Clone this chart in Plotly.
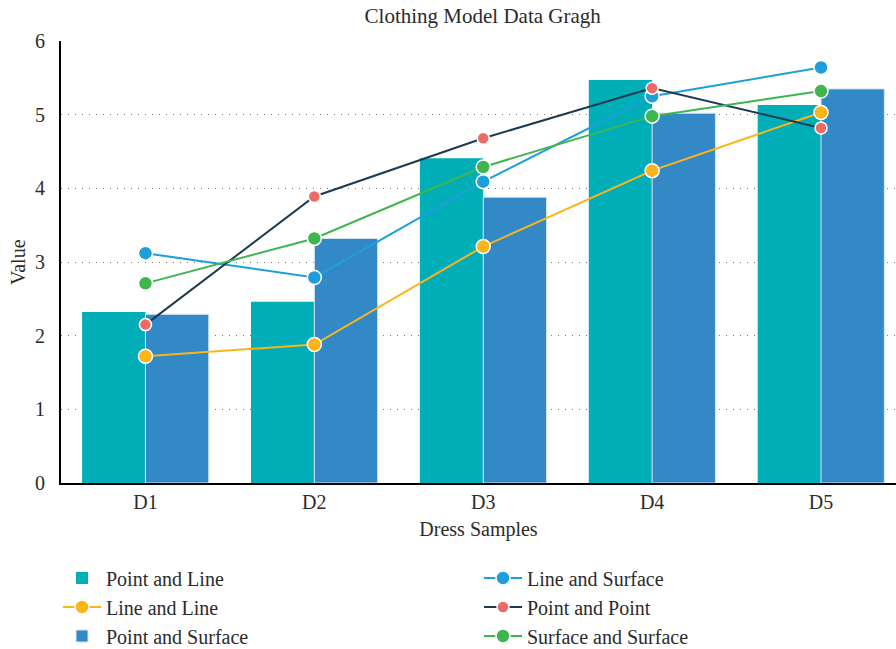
import plotly.graph_objects as go

# Dress sample categories
samples = ["D1", "D2", "D3", "D4", "D5"]

# Bar series
point_and_line = [2.32, 2.46, 4.41, 5.47, 5.13]
point_and_surface = [2.29, 3.32, 3.88, 5.02, 5.35]

# Line series
line_and_line = [1.72, 1.88, 3.21, 4.24, 5.03]
line_and_surface = [3.12, 2.79, 4.09, 5.25, 5.64]
point_and_point = [2.15, 3.89, 4.68, 5.36, 4.82]
surface_and_surface = [2.71, 3.32, 4.29, 4.98, 5.32]

y_ticks = [0, 1, 2, 3, 4, 5, 6]

FONT = "Liberation Serif"
TEXT = "#2b2b2b"

fig = go.Figure()

fig.add_trace(go.Bar(
    x=samples, y=point_and_line, name="Point and Line",
    marker=dict(color="#00AEB8", line=dict(width=0)),
    legend="legend", showlegend=True,
))
fig.add_trace(go.Bar(
    x=samples, y=point_and_surface, name="Point and Surface",
    marker=dict(color="#3389C6", line=dict(width=1, color="#D5E6F3")),
    legend="legend3", showlegend=True,
))

def line_trace(values, name, line_color, marker_color, size, legend):
    return go.Scatter(
        x=samples, y=values, name=name, mode="lines+markers",
        line=dict(color=line_color, width=2),
        marker=dict(color=marker_color, size=size,
                    line=dict(color="white", width=1.5)),
        legend=legend, showlegend=True,
    )

fig.add_trace(line_trace(line_and_line, "Line and Line", "#FBB41A", "#FBB41A", 14, "legend2"))
fig.add_trace(line_trace(line_and_surface, "Line and Surface", "#1E9FDB", "#1E9FDB", 14, "legend4"))
fig.add_trace(line_trace(point_and_point, "Point and Point", "#1E3A50", "#EE6A64", 12, "legend5"))
fig.add_trace(line_trace(surface_and_surface, "Surface and Surface", "#3FB54F", "#3FB54F", 14, "legend6"))

legend_common = dict(
    orientation="v", xref="container", yref="container",
    yanchor="middle", xanchor="left",
    font=dict(family=FONT, size=20, color=TEXT),
    bgcolor="rgba(0,0,0,0)", itemwidth=38,
)
# One legend box per entry, laid out in two columns of three rows
col_x = [58 / 896, 479 / 896]
row_y = [1 - 578 / 649, 1 - 607 / 649, 1 - 636 / 649]
legends = {}
for i, key in enumerate(["legend", "legend2", "legend3",
                         "legend4", "legend5", "legend6"]):
    legends[key] = dict(x=col_x[i // 3], y=row_y[i % 3], **legend_common)

fig.update_layout(
    width=896, height=649, showlegend=True,
    margin=dict(l=61, r=0, t=41, b=166, autoexpand=False),
    paper_bgcolor="white", plot_bgcolor="white",
    barmode="group", bargap=0.25, bargroupgap=0,
    font=dict(family=FONT, color=TEXT),
    title=dict(text="Clothing Model Data Gragh", xref="paper", x=0.505,
               xanchor="center", yref="container", y=1 - 16 / 649,
               yanchor="middle",
               font=dict(family=FONT, size=21, color=TEXT)),
    xaxis=dict(
        range=[-0.5, 4.444], showgrid=False, zeroline=False,
        showline=True, linecolor="black", linewidth=2,
        ticks="", ticklabelstandoff=0,
        tickfont=dict(family=FONT, size=20, color=TEXT),
        title=dict(text="Dress Samples", standoff=10,
                   font=dict(family=FONT, size=20, color=TEXT)),
    ),
    yaxis=dict(
        range=[0, 6], tickvals=y_ticks, zeroline=False,
        showgrid=True, gridcolor="#777777", gridwidth=1, griddash="1px,6px",
        showline=True, linecolor="black", linewidth=2,
        ticks="", ticklabelstandoff=10,
        tickfont=dict(family=FONT, size=20, color=TEXT),
    ),
    annotations=[dict(
        text="Value", xref="paper", yref="paper",
        x=(18 - 61) / 835, y=(483 - 262) / 442,
        xanchor="center", yanchor="middle",
        textangle=-90, showarrow=False,
        font=dict(family=FONT, size=20, color=TEXT),
    )],
    **legends,
)

fig.write_html("out.html")
